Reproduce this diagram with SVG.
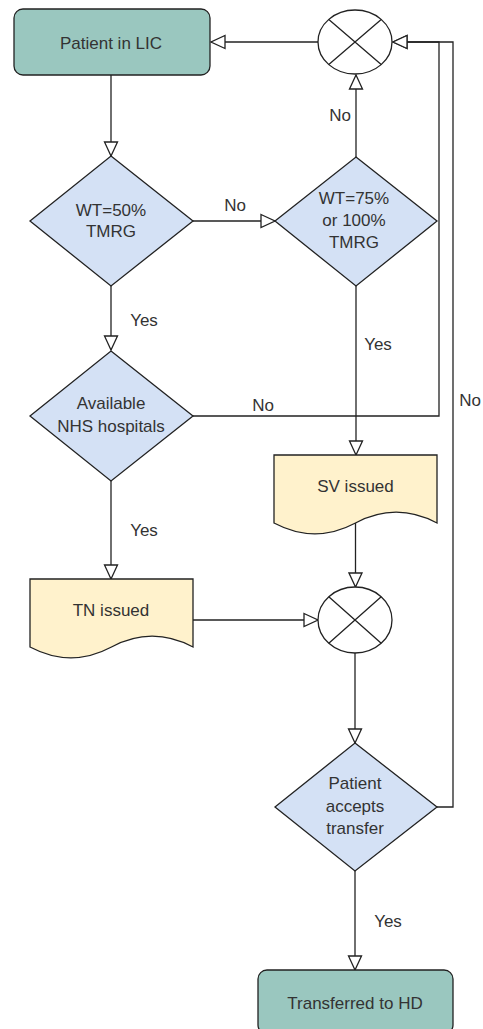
<svg xmlns="http://www.w3.org/2000/svg" width="483" height="1029" viewBox="0 0 483 1029">
<style>
text{font-family:"Liberation Sans",Arial,sans-serif;font-size:17px;fill:#333;text-anchor:middle;dominant-baseline:central}
.term{fill:#9AC7BF;stroke:#222;stroke-width:1.3}
.dec{fill:#D4E1F5;stroke:#222;stroke-width:1.3}
.doc{fill:#FFF2CC;stroke:#222;stroke-width:1.3}
.or{fill:#fff;stroke:#222;stroke-width:1.3}
.edge{fill:none;stroke:#222;stroke-width:1.3}
</style>
<defs>
<marker id="arr" markerUnits="userSpaceOnUse" markerWidth="16" markerHeight="16" refX="15" refY="8" orient="auto">
<path d="M1,1.5 L15,8 L1,14.5 Z" fill="#fff" stroke="#222" stroke-width="1.3"/>
</marker>
</defs>
<g id="connectors">
<path class="edge" d="M318,42 H211" marker-end="url(#arr)"/>
<path class="edge" d="M111,75 V156" marker-end="url(#arr)"/>
<path class="edge" d="M193,221 H275" marker-end="url(#arr)"/>
<path class="edge" d="M356,157 V75" marker-end="url(#arr)"/>
<path class="edge" d="M111,286 V350" marker-end="url(#arr)"/>
<path class="edge" d="M356,286 V455" marker-end="url(#arr)"/>
<path class="edge" d="M193,416 H439 V42 H393" marker-end="url(#arr)"/>
<path class="edge" d="M437,807 H453 V42 H393" marker-end="url(#arr)"/>
<path class="edge" d="M111,480 V579" marker-end="url(#arr)"/>
<path class="edge" d="M355.5,523 V587" marker-end="url(#arr)"/>
<path class="edge" d="M193,620 H318" marker-end="url(#arr)"/>
<path class="edge" d="M355,653 V743" marker-end="url(#arr)"/>
<path class="edge" d="M355,871 V970" marker-end="url(#arr)"/>
<text x="235" y="205">No</text>
<text x="340" y="115">No</text>
<text x="144" y="320">Yes</text>
<text x="378" y="344">Yes</text>
<text x="263" y="405">No</text>
<text x="470" y="400">No</text>
<text x="144" y="530">Yes</text>
<text x="388" y="921">Yes</text>
</g>
<g id="patient-lic">
<rect class="term" x="14" y="9" width="196" height="66" rx="9"/>
<text x="111" y="43">Patient in LIC</text>
</g>
<g id="or-top">
<ellipse class="or" cx="355" cy="42" rx="37" ry="32"/>
<path class="edge" d="M328.8,19.4 L381.2,64.6 M381.2,19.4 L328.8,64.6"/>
</g>
<g id="wt50">
<polygon class="dec" points="111,156 193,221 111,286 30,221"/>
<text x="111" y="210">WT=50%</text>
<text x="111" y="231">TMRG</text>
</g>
<g id="wt75">
<polygon class="dec" points="356,157 437,221 356,286 275,221"/>
<text x="354" y="198">WT=75%</text>
<text x="354" y="220">or 100%</text>
<text x="354" y="242">TMRG</text>
</g>
<g id="nhs">
<polygon class="dec" points="111,351 193,416 111,481 30,416"/>
<text x="111" y="403">Available</text>
<text x="111" y="426">NHS hospitals</text>
</g>
<g id="sv">
<path class="doc" d="M274,455 H437 V523 Q396,501.4 355.5,523 Q315,544.6 274,523 Z"/>
<text x="355.5" y="486">SV issued</text>
</g>
<g id="tn">
<path class="doc" d="M30,579 H193 V647 Q152,625.4 111.5,647 Q71,668.6 30,647 Z"/>
<text x="111" y="610">TN issued</text>
</g>
<g id="or-mid">
<ellipse class="or" cx="355" cy="620" rx="37" ry="33"/>
<path class="edge" d="M328.8,596.7 L381.2,643.3 M381.2,596.7 L328.8,643.3"/>
</g>
<g id="accepts">
<polygon class="dec" points="355,743 437,807 355,871 275,807"/>
<text x="355" y="783">Patient</text>
<text x="355" y="806">accepts</text>
<text x="355" y="828">transfer</text>
</g>
<g id="hd">
<rect class="term" x="258" y="970" width="195" height="64" rx="9"/>
<text x="355" y="1003">Transferred to HD</text>
</g>
</svg>
